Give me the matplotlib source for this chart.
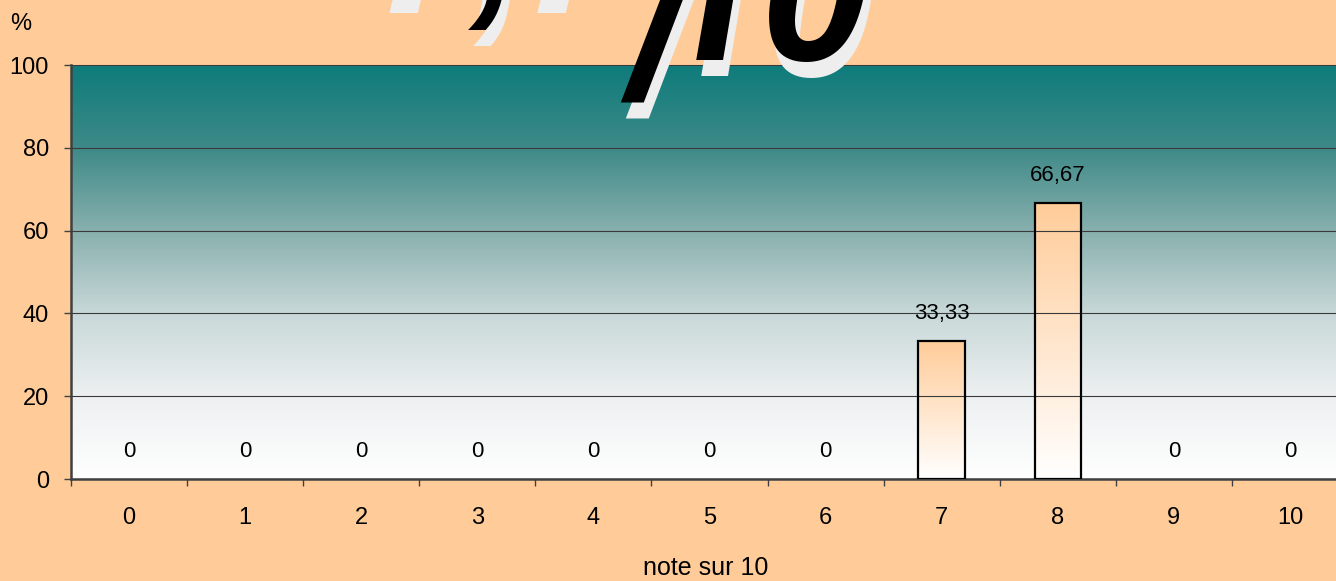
import numpy as np
import matplotlib.pyplot as plt
from matplotlib.colors import LinearSegmentedColormap

plt.rcParams["font.family"] = ["Liberation Sans", "DejaVu Sans"]

# données
notes = [0, 1, 2, 3, 4, 5, 6, 7, 8, 9, 10]
percents = [0, 0, 0, 0, 0, 0, 0, 33.33, 66.67, 0, 0]
tick_labels = [str(n) for n in notes]
value_labels = [f"{v:.2f}".replace(".", ",") if v else "0" for v in percents]
yticks = [0, 20, 40, 60, 80, 100]

W, H = 1336, 581
fig = plt.figure(figsize=(W / 100, H / 100), dpi=100, facecolor="#FFCC99")
ax = fig.add_axes([71 / W, 102 / H, 1277 / W, 414 / H])

# fond dégradé (blanc en bas -> bleu-vert en haut)
bg_cmap = LinearSegmentedColormap.from_list(
    "bg",
    [(0.0, "#FFFFFF"), (0.2, "#EDF0F1"), (0.4, "#C8D8D8"),
     (0.6, "#88B0AE"), (0.8, "#3E8A88"), (1.0, "#0E7C7B")],
)
grad = np.linspace(0, 1, 256).reshape(-1, 1)
ax.imshow(grad, extent=[-0.5, 10.5, 0, 100], aspect="auto", cmap=bg_cmap,
          origin="lower", zorder=0)

# barres avec dégradé pêche -> blanc
bar_cmap = LinearSegmentedColormap.from_list("bar", ["#FFFFFF", "#FFCC99"])
edges = ["black" if v > 0 else "none" for v in percents]
bars = ax.bar(notes, percents, width=0.4, facecolor="none", edgecolor=edges,
              linewidth=1.6, zorder=3)
for b in bars:
    h = b.get_height()
    if h > 0:
        x0 = b.get_x()
        im = ax.imshow(grad, extent=[x0, x0 + b.get_width(), 0, h], aspect="auto",
                       cmap=bar_cmap, origin="lower", zorder=2.5)
        im.set_clip_path(b)

for x, v, lab in zip(notes, percents, value_labels):
    ax.annotate(lab, (x, v), xytext=(0, 20), textcoords="offset points",
                ha="center", va="center", fontsize=16, zorder=4)

ax.set_xlim(-0.5, 10.5)
ax.set_ylim(0, 100)
ax.set_yticks(yticks)
ax.yaxis.grid(True, color="#3a3a3a", linewidth=0.8, zorder=1)
ax.set_axisbelow(False)
ax.set_xticks(notes)
ax.set_xticklabels(tick_labels)
ax.set_xticks(np.arange(-0.5, 11, 1), minor=True)
ax.tick_params(axis="x", which="major", length=0, pad=20, labelsize=17)
ax.tick_params(axis="x", which="minor", length=5, width=1, color="#404040")
ax.tick_params(axis="y", length=5, width=1, color="#404040", pad=11, labelsize=17)
for s in ["left", "bottom"]:
    ax.spines[s].set_color("#404040")
    ax.spines[s].set_linewidth(1.8)
ax.spines["top"].set_color("#808080")
ax.spines["right"].set_visible(False)

fig.text(10 / W, 1 - 24 / H, "%", fontsize=17, va="center", ha="left")
fig.text(706 / W, 1 - 568 / H, "note sur 10", fontsize=18, va="center", ha="center")

# titre (WordArt coupé en haut) : caractère, x origine, ligne de base (pixels), police
title_chars = [("7", 367, -3, "Liberation Sans"), (",", 470, 0, "Liberation Sans"),
               ("7", 515, -3, "Liberation Sans"), ("/", 627, 98, "Liberation Sans"),
               ("1", 658, 60, "Roboto"), ("0", 761, 60, "Liberation Sans")]
for ch, px, py, fam in title_chars:
    fig.text((px + 5) / W, 1 - (py + 16) / H, ch, fontsize=140, fontweight="bold",
             style="italic", family=fam, color="#EEEEEE", ha="left", va="baseline")
    fig.text(px / W, 1 - py / H, ch, fontsize=140, fontweight="bold",
             style="italic", family=fam, color="black", ha="left", va="baseline")

fig.savefig("out.png", dpi=100, facecolor=fig.get_facecolor())
